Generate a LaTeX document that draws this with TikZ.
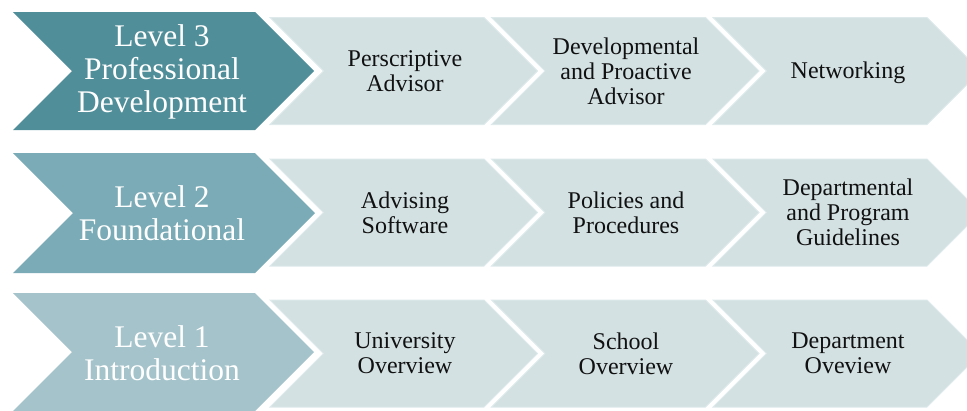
\documentclass[tikz,border=0pt]{standalone}
\usepackage{fontspec}
\setmainfont{Liberation Serif}
\definecolor{lvlthree}{HTML}{508E99}
\definecolor{lvltwo}{HTML}{7AABB6}
\definecolor{lvlone}{HTML}{A4C3CB}
\definecolor{stepfill}{HTML}{D3E1E3}
\definecolor{stepedge}{HTML}{DDE9EB}
\definecolor{steptext}{HTML}{111111}
% chevron: style, left x, top-right x, centre y, half height
\newcommand\chevshape[5]{%
  \path[#1] (#2,#4-#5) -- (#3,#4-#5) -- (#3+#5,#4) -- (#3,#4+#5)
    -- (#2,#4+#5) -- (#2+#5,#4) -- cycle;}
\begin{document}
\begin{tikzpicture}[x=1pt,y=-1pt,
  levelbox/.style={fill=#1},
  stepbox/.style={fill=stepfill,draw=stepedge,line width=1pt},
  leveltext/.style={text=white,align=center,inner sep=0pt,
    font=\fontsize{31.5}{33}\selectfont},
  steptextstyle/.style={text=steptext,align=center,inner sep=0pt,
    font=\fontsize{24}{25}\selectfont}]
\useasboundingbox (0,0) rectangle (967,410);
\clip (0,0) rectangle (967,410);
% level chevrons
\chevshape{levelbox=lvlthree}{13}{255}{71}{59}
\chevshape{levelbox=lvltwo}{13}{255}{213}{60}
\chevshape{levelbox=lvlone}{13}{255}{352}{59}
% step chevrons, three per row
\foreach \cy in {71,212.5,353.5}{
  \chevshape{stepbox}{270}{484}{\cy}{53.5}
  \chevshape{stepbox}{491.5}{705.5}{\cy}{53.5}
  \chevshape{stepbox}{713}{927}{\cy}{53.5}
}
% level labels
\node[leveltext] (l3) at (162,72) {Level 3\\Professional\\Development};
\node[leveltext] (l2) at (162,213) {Level 2\\Foundational};
\node[leveltext] (l1) at (162,353) {Level 1\\Introduction};
% step labels
\node[steptextstyle] (a3) at (405,71) {Perscriptive\\Advisor};
\node[steptextstyle] (b3) at (626,71) {Developmental\\and Proactive\\Advisor};
\node[steptextstyle] (c3) at (848,73) {Networking};
\node[steptextstyle] (a2) at (405,212.5) {Advising\\Software};
\node[steptextstyle] (b2) at (626,212.5) {Policies and\\Procedures};
\node[steptextstyle] (c2) at (848,212.5) {Departmental\\and Program\\Guidelines};
\node[steptextstyle] (a1) at (405,353.5) {University\\Overview};
\node[steptextstyle] (b1) at (626,353.5) {School\\Overview};
\node[steptextstyle] (c1) at (848,353.5) {Department\\Oveview};
\end{tikzpicture}
\end{document}
